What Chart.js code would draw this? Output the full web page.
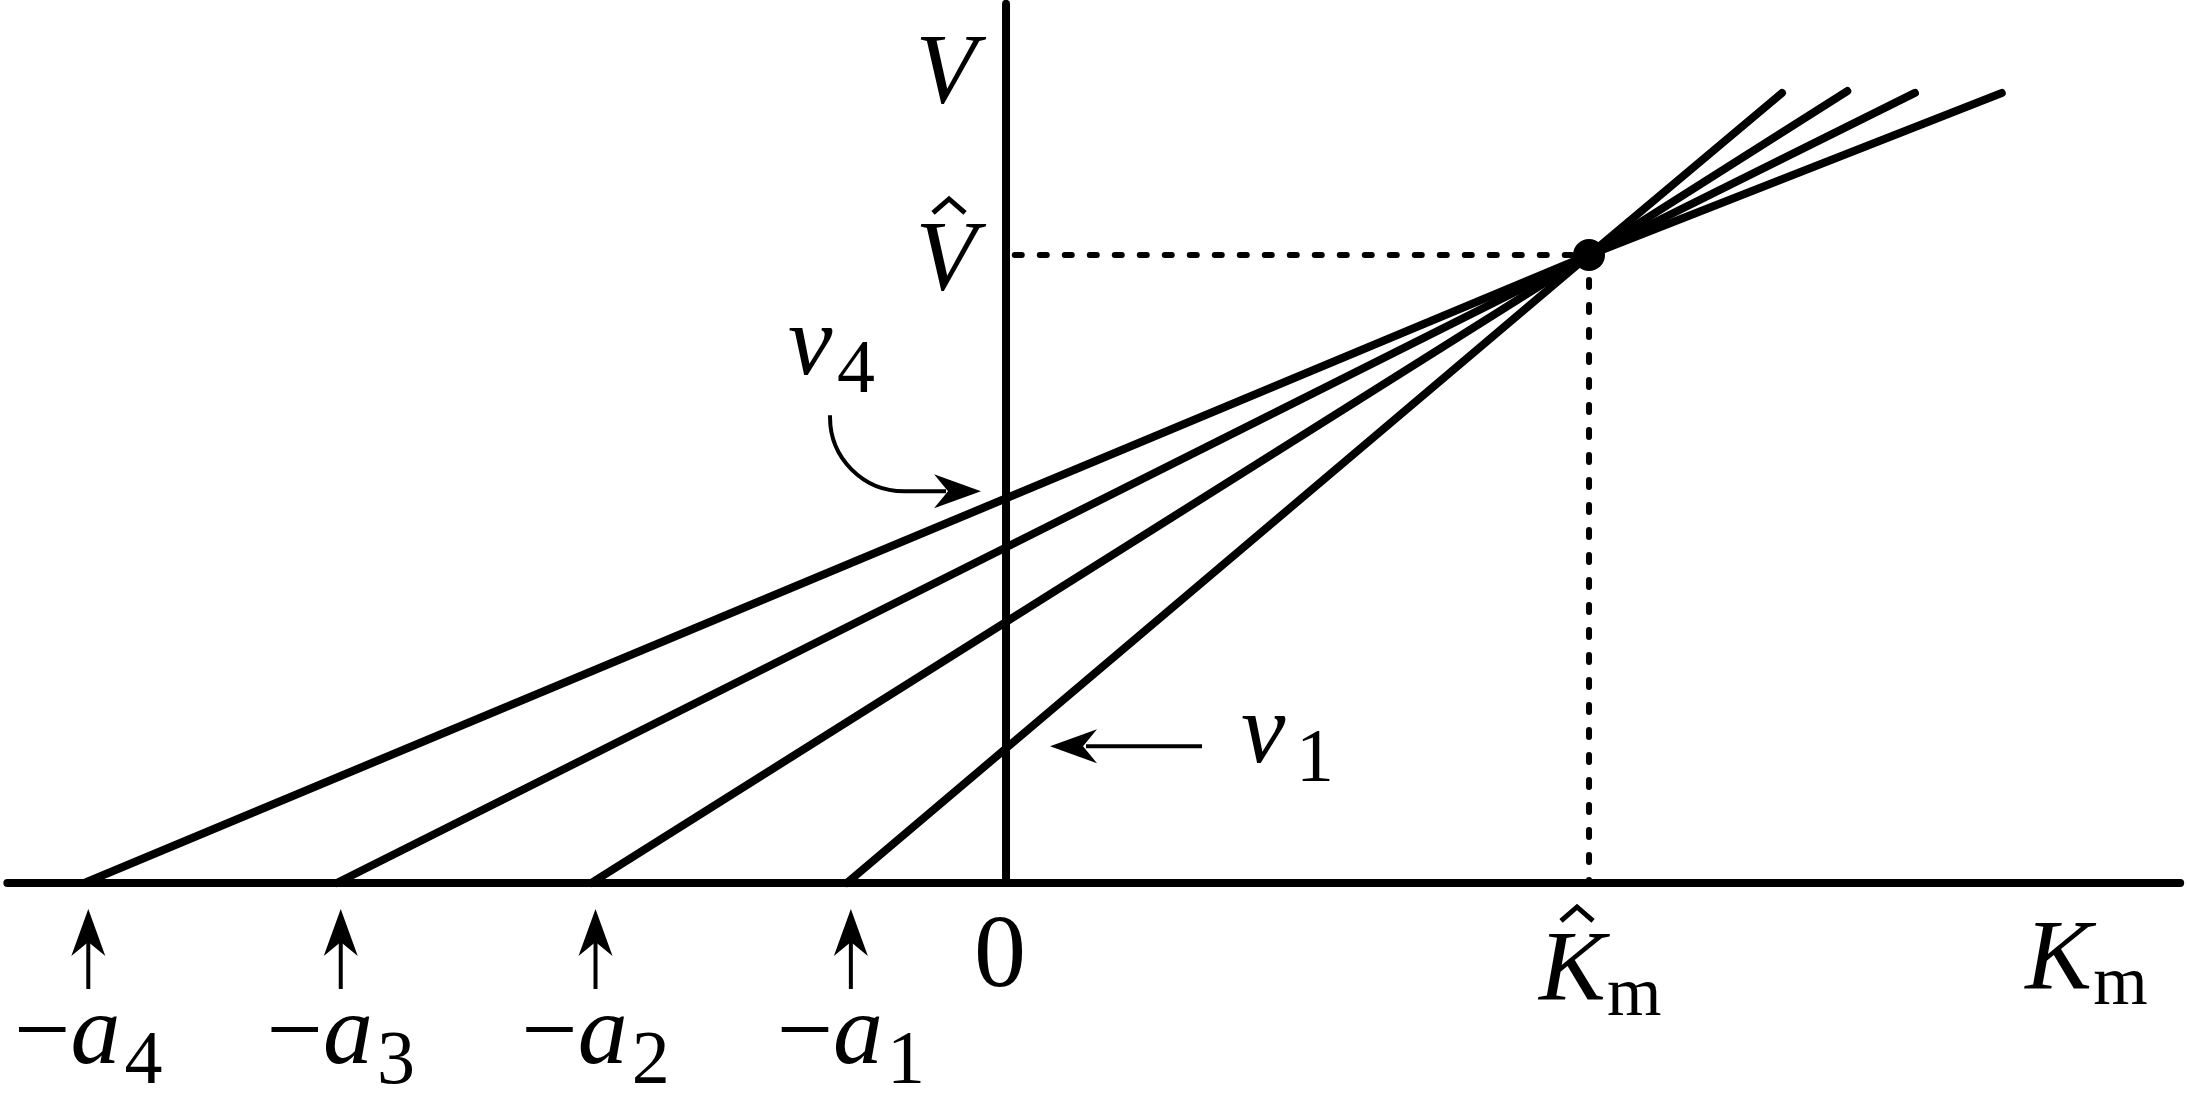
<!DOCTYPE html>
<html>
<head>
<meta charset="utf-8">
<script src="https://cdn.jsdelivr.net/npm/chart.js@4.4.0/dist/chart.umd.min.js"></script>
<style>html,body{margin:0;padding:0;background:#fff;overflow:hidden}</style>
</head>
<body>
<canvas id="myChart" width="2187" height="1099"></canvas>
<script>
// x-intercepts -a1..-a4 (in units of K̂m), and where each line stops
var intercepts = [-0.273, -0.711, -1.148, -1.581];
var aLabels = ['1', '2', '3', '4'];
var endX = [1.331, 1.443, 1.559, 1.708];
var endY = [1.258, 1.261, 1.258, 1.258];
var kHat = 1;
var vHat = 1;
var xAxisRange = [-1.713, 2.014];
var yAxisTop = 1.4;

var SERIF = "'Liberation Serif', 'DejaVu Serif', serif";

var lineStyle = {
  showLine: true, pointRadius: 0, borderColor: '#000', borderWidth: 8,
  borderCapStyle: 'round', borderJoinStyle: 'round', clip: false, tension: 0
};

var datasets = [];
for (var i = 0; i < intercepts.length; i++) {
  datasets.push(Object.assign({}, lineStyle, {
    data: [{x: intercepts[i], y: 0}, {x: kHat, y: vHat}, {x: endX[i], y: endY[i]}]
  }));
}
// axes
datasets.push(Object.assign({}, lineStyle, {borderWidth: 8,
  data: [{x: xAxisRange[0], y: 0}, {x: xAxisRange[1], y: 0}]}));
datasets.push(Object.assign({}, lineStyle, {borderWidth: 8,
  data: [{x: 0, y: 0}, {x: 0, y: yAxisTop}]}));
// dotted guides
datasets.push(Object.assign({}, lineStyle, {borderWidth: 6, borderDash: [7, 18],
  data: [{x: 0.015, y: vHat}, {x: kHat - 0.03, y: vHat}]}));
datasets.push(Object.assign({}, lineStyle, {borderWidth: 6, borderDash: [7, 18],
  data: [{x: kHat, y: vHat - 0.04}, {x: kHat, y: 0}]}));
// the common point
datasets.push({data: [{x: kHat, y: vHat}], showLine: false, pointRadius: 16,
  backgroundColor: '#000', borderWidth: 0, clip: false});

function arrowHead(ctx, x, y, dx, dy) {
  var len = 47, half = 17, notch = 14;
  var nx = -dy, ny = dx;
  ctx.beginPath();
  ctx.moveTo(x, y);
  ctx.lineTo(x - dx * len + nx * half, y - dy * len + ny * half);
  ctx.lineTo(x - dx * (len - notch), y - dy * (len - notch));
  ctx.lineTo(x - dx * len - nx * half, y - dy * len - ny * half);
  ctx.closePath();
  ctx.fill();
}

function hat(ctx, cx, bottom) {
  ctx.save();
  ctx.lineWidth = 5;
  ctx.lineJoin = 'miter';
  ctx.beginPath();
  ctx.moveTo(cx - 16, bottom);
  ctx.lineTo(cx, bottom - 14);
  ctx.lineTo(cx + 16, bottom);
  ctx.stroke();
  ctx.restore();
}

var labelsPlugin = {
  id: 'labels',
  afterDatasetsDraw: function (chart) {
    var ctx = chart.ctx;
    var sx = chart.scales.x, sy = chart.scales.y;
    var px = function (v) { return sx.getPixelForValue(v); };
    var py = function (v) { return sy.getPixelForValue(v); };
    var x0 = px(0), y0 = py(0);
    ctx.save();
    ctx.fillStyle = '#000';
    ctx.strokeStyle = '#000';
    ctx.textBaseline = 'alphabetic';

    // V and V-hat
    ctx.font = 'italic 100px ' + SERIF;
    ctx.textAlign = 'center';
    ctx.fillText('V', x0 - 60, py(yAxisTop) + 98);
    ctx.fillText('V', x0 - 60, py(vHat) + 34);
    hat(ctx, x0 - 57, py(vHat) - 42);

    // 0
    ctx.font = '104px ' + SERIF;
    ctx.fillText('0', x0 - 6, y0 + 103);

    // K-hat m
    ctx.textAlign = 'left';
    ctx.font = 'italic 100px ' + SERIF;
    ctx.fillText('K', px(kHat) - 50, y0 + 116);
    ctx.font = '70px ' + SERIF;
    ctx.fillText('m', px(kHat) + 18, y0 + 132);
    hat(ctx, px(kHat) - 12, y0 + 38);

    // Km axis name
    ctx.font = 'italic 100px ' + SERIF;
    ctx.fillText('K', px(xAxisRange[1]) - 155, y0 + 105);
    ctx.font = '70px ' + SERIF;
    ctx.fillText('m', px(xAxisRange[1]) - 87, y0 + 121);

    // arrows and labels under the intercepts
    for (var i = 0; i < intercepts.length; i++) {
      var ax = px(intercepts[i]) + 4;
      ctx.lineWidth = 4;
      ctx.beginPath();
      ctx.moveTo(ax, y0 + 106);
      ctx.lineTo(ax, y0 + 50);
      ctx.stroke();
      arrowHead(ctx, ax, y0 + 26, 0, -1);

      ctx.font = '100px ' + SERIF;
      var wMinus = ctx.measureText('\u2212').width;
      ctx.font = 'italic 100px ' + SERIF;
      var wA = ctx.measureText('a').width;
      ctx.font = '76px ' + SERIF;
      var wSub = ctx.measureText(aLabels[i]).width;
      var left = ax - (wMinus + wA + wSub + 4) / 2;
      var base = y0 + 180;
      ctx.font = '100px ' + SERIF;
      ctx.fillText('\u2212', left, base);
      ctx.font = 'italic 100px ' + SERIF;
      ctx.fillText('a', left + wMinus, base);
      ctx.font = '76px ' + SERIF;
      ctx.fillText(aLabels[i], left + wMinus + wA + 4, base + 20);
    }

    // v1 pointer: to where the steepest line crosses the V axis
    var yInt1 = py(-intercepts[0] * vHat / (kHat - intercepts[0]));
    ctx.lineWidth = 4;
    ctx.beginPath();
    ctx.moveTo(x0 + 196, yInt1 - 2);
    ctx.lineTo(x0 + 80, yInt1 - 2);
    ctx.stroke();
    arrowHead(ctx, x0 + 44, yInt1 - 2, -1, 0);
    ctx.font = 'italic 100px ' + SERIF;
    ctx.fillText('v', x0 + 235, yInt1 + 14);
    ctx.font = '76px ' + SERIF;
    ctx.fillText('1', x0 + 290, yInt1 + 33);

    // v4 pointer: curved arrow to the flattest line
    var yInt4 = py(-intercepts[3] * vHat / (kHat - intercepts[3]));
    var ty = yInt4 - 7;
    ctx.beginPath();
    ctx.moveTo(x0 - 176, ty - 76);
    ctx.arc(x0 - 102, ty - 74, 74, Math.PI, Math.PI / 2, true);
    ctx.lineTo(x0 - 60, ty);
    ctx.stroke();
    arrowHead(ctx, x0 - 25, ty, 1, 0);
    ctx.font = 'italic 100px ' + SERIF;
    ctx.fillText('v', x0 - 218, ty - 117);
    ctx.font = '76px ' + SERIF;
    ctx.fillText('4', x0 - 169, ty - 99);

    ctx.restore();
  }
};

var ctx = document.getElementById('myChart');
var myChart = new Chart(ctx, {
  type: 'scatter',
  data: {datasets: datasets},
  options: {
    responsive: false,
    devicePixelRatio: 1,
    animation: false,
    events: [],
    layout: {padding: 0, autoPadding: false},
    plugins: {legend: {display: false}, tooltip: {enabled: false}},
    scales: {
      x: {type: 'linear', min: -1.7256, max: 2.0257, display: false},
      y: {type: 'linear', min: -0.344, max: 1.406, display: false}
    }
  },
  plugins: [labelsPlugin]
});
</script>
</body>
</html>
